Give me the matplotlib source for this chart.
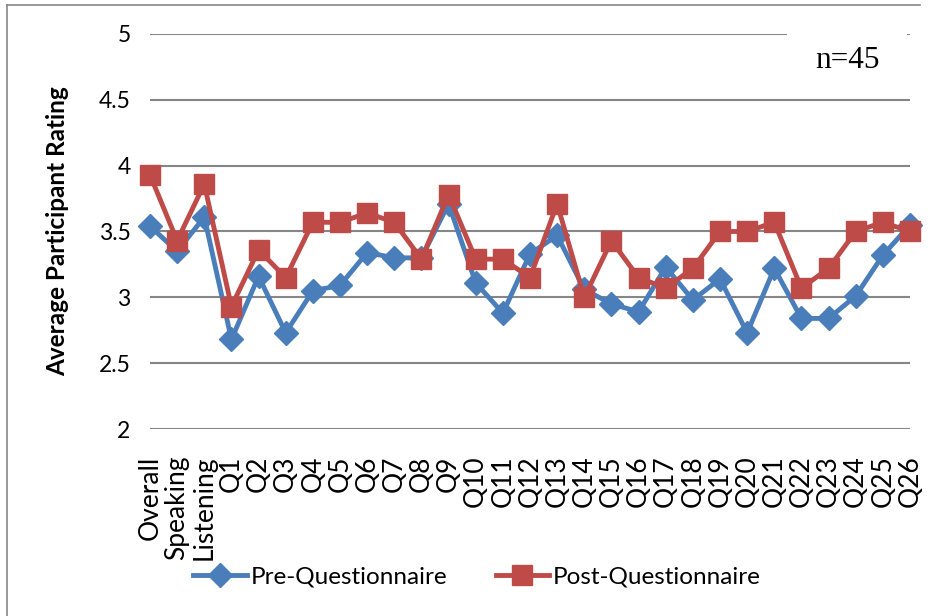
import matplotlib.pyplot as plt
from matplotlib.lines import Line2D
from matplotlib.patches import Rectangle

# --- Datos --------------------------------------------------------------------
categorias = ["Overall", "Speaking", "Listening",
              "Q1", "Q2", "Q3", "Q4", "Q5", "Q6", "Q7", "Q8", "Q9", "Q10",
              "Q11", "Q12", "Q13", "Q14", "Q15", "Q16", "Q17", "Q18", "Q19",
              "Q20", "Q21", "Q22", "Q23", "Q24", "Q25", "Q26"]

pre = [3.54, 3.35, 3.61, 2.68, 3.16, 2.73, 3.05, 3.09, 3.34, 3.30, 3.30,
       3.71, 3.11, 2.88, 3.33, 3.47, 3.06, 2.95, 2.89, 3.23, 2.98, 3.14,
       2.73, 3.22, 2.84, 2.84, 3.01, 3.32, 3.55]

post = [3.93, 3.43, 3.86, 2.93, 3.36, 3.15, 3.57, 3.57, 3.64, 3.57, 3.29,
        3.78, 3.29, 3.29, 3.15, 3.71, 3.00, 3.43, 3.15, 3.07, 3.22, 3.50,
        3.50, 3.57, 3.07, 3.22, 3.50, 3.57, 3.50]

y_ticks = [2, 2.5, 3, 3.5, 4, 4.5, 5]
y_tick_labels = ["2", "2.5", "3", "3.5", "4", "4.5", "5"]

AZUL = "#4A7EBB"
ROJO = "#BE4B48"
GRIS = "#868686"

plt.rcParams["font.family"] = ["Lato", "DejaVu Sans"]

# --- Figura -------------------------------------------------------------------
W, H = 930, 616
fig = plt.figure(figsize=(W / 100, H / 100), dpi=100)
ax = fig.add_axes([150 / W, 1 - 429 / H, 760 / W, 395 / H])

x = list(range(len(categorias)))
ax.plot(x, pre, color=AZUL, linewidth=3.5, marker="D", markersize=12,
        markerfacecolor=AZUL, markeredgecolor=AZUL, label="Pre-Questionnaire",
        zorder=3, clip_on=False)
ax.plot(x, post, color=ROJO, linewidth=3.5, marker="s", markersize=14,
        markerfacecolor=ROJO, markeredgecolor=ROJO, label="Post-Questionnaire",
        zorder=4, clip_on=False)

ax.set_xlim(0, len(categorias) - 1)
ax.set_ylim(2, 5)
ax.set_yticks(y_ticks)
ax.set_yticklabels(y_tick_labels, fontsize=16.5)
ax.set_xticks(x)
ax.set_xticklabels(categorias, rotation=90, fontsize=19, va="top")
ax.tick_params(axis="both", length=0)
ax.tick_params(axis="y", pad=14)
ax.tick_params(axis="x", pad=19)

ax.grid(axis="y", color=GRIS, linewidth=1.5)
ax.set_axisbelow(True)
for s in ax.spines.values():
    s.set_visible(False)

ax.set_ylabel("Average Participant Rating", fontsize=17.5, fontweight="bold",
              labelpad=21)

# caja blanca con n=45 (tapa la línea del 5)
fig.add_artist(Rectangle((787 / W, 1 - 92 / H), 120 / W, 66 / H,
                         transform=fig.transFigure, facecolor="white",
                         edgecolor="none", zorder=5))
fig.text(847 / W, 1 - 60 / H, "n=45", family="Liberation Serif", fontsize=22.5,
         ha="center", va="center", zorder=6)

# marco de la figura (izquierda y arriba)
fig.add_artist(Line2D([7 / W, 7 / W], [0, 1 - 5 / H], transform=fig.transFigure,
                      color=GRIS, linewidth=1.2))
fig.add_artist(Line2D([7 / W, 920 / W], [1 - 5 / H, 1 - 5 / H],
                      transform=fig.transFigure, color=GRIS, linewidth=1.2))

fig.legend(loc="center", bbox_to_anchor=(477 / W, 1 - 577 / H), ncol=2,
           frameon=False, fontsize=17.5, handlelength=2.2, columnspacing=2.0,
           handletextpad=0.15)

fig.savefig("out.png", dpi=100)
